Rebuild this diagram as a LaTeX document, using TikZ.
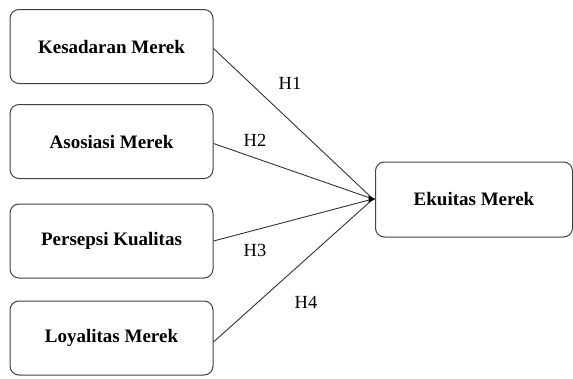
\documentclass[tikz,border=0pt]{standalone}
\usepackage{fontspec}
\setmainfont{Liberation Serif}
\usetikzlibrary{arrows.meta}
\begin{document}
\begin{tikzpicture}[x=1pt,y=-1pt,
  box/.style={draw=black!75,line width=1pt,rounded corners=9pt,minimum width=203pt,minimum height=74pt,inner sep=0pt,font=\fontsize{19}{22}\selectfont\bfseries},
  link/.style={draw=black!80,line width=0.9pt},
  hlab/.style={font=\fontsize{18.5}{21}\selectfont,inner sep=0pt}]
\useasboundingbox (0,0) rectangle (573,378);
\node[box] (k) at (111.5,46.5) {Kesadaran Merek};
\node[box] (a) at (111.5,141.5) {Asosiasi Merek};
\node[box] (p) at (111.5,241) {Persepsi Kualitas};
\node[box] (l) at (111.5,338) {Loyalitas Merek};
\node[box,minimum width=197pt,minimum height=75pt] (e) at (474,199.5) {Ekuitas Merek};
\coordinate (c) at (373,199);
\draw[link] (k.east) ++(0,2) coordinate (k1) -- (c);
\draw[link] (a.east) ++(0,2) -- (c);
\draw[link] (p.east) -- (c);
\draw[link] (l.east) ++(0,4) -- (c);
\fill[black] (c) ++(2.5,0) -- ++(-7,-3.5) -- ++(0,7) -- cycle;
\node[hlab] (h1) at (290,83) {H1};
\node[hlab] (h2) at (255,140) {H2};
\node[hlab] (h3) at (255,250) {H3};
\node[hlab] (h4) at (306,302) {H4};
\end{tikzpicture}
\end{document}
